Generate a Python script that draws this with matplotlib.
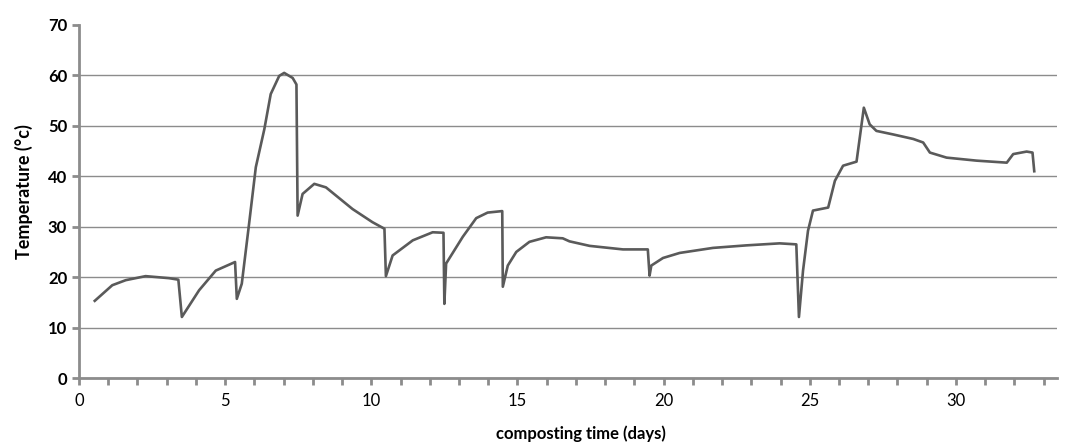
import matplotlib
matplotlib.use("Agg")
import matplotlib.pyplot as plt
from matplotlib.ticker import MultipleLocator

# composting time (days) and temperature (°c)
dias = [0.54, 1.14, 1.60, 2.28, 3.08, 3.40, 3.52, 4.11, 4.68, 5.34, 5.40, 5.57,
        5.82, 6.05, 6.34, 6.56, 6.85, 7.02, 7.31, 7.44, 7.48, 7.65,
        8.05, 8.45, 9.36, 10.04, 10.45, 10.50, 10.73, 11.42, 12.10, 12.47,
        12.50, 12.56, 13.13, 13.59, 13.98, 14.48, 14.50, 14.67, 14.96, 15.41,
        15.98, 16.55, 16.78, 17.47, 18.61, 19.46, 19.52, 19.58, 19.98, 20.55,
        21.69, 22.83, 23.97, 24.54, 24.63, 24.77, 24.94, 25.11, 25.63, 25.86,
        26.14, 26.60, 26.85, 27.05, 27.28, 27.85, 28.54, 28.88, 29.11, 29.68,
        30.71, 31.74, 31.96, 32.42, 32.62, 32.68]
temperatura = [15.3, 18.4, 19.4, 20.2, 19.8, 19.5, 12.1, 17.4, 21.3, 23.0, 15.7, 18.7,
               30.6, 41.8, 49.3, 56.3, 59.9, 60.5, 59.5, 58.2, 32.2, 36.5,
               38.5, 37.8, 33.5, 30.9, 29.6, 20.2, 24.3, 27.3, 28.9, 28.8,
               14.7, 22.7, 28.0, 31.7, 32.8, 33.1, 18.1, 22.3, 25.0, 27.0,
               27.9, 27.7, 27.1, 26.2, 25.5, 25.5, 20.3, 22.3, 23.8, 24.8,
               25.8, 26.3, 26.7, 26.5, 12.1, 21.3, 29.2, 33.2, 33.8, 39.1,
               42.1, 42.9, 53.6, 50.3, 49.0, 48.3, 47.4, 46.7, 44.7, 43.7,
               43.1, 42.7, 44.4, 44.9, 44.7, 41.0]

xticks = [0, 5, 10, 15, 20, 25, 30]
yticks = [0, 10, 20, 30, 40, 50, 60, 70]

plt.rcParams["font.family"] = ["Lato", "DejaVu Sans"]

fig = plt.figure(figsize=(10.70, 4.43), dpi=100)
ax = fig.add_axes([0.0738, 0.1467, 0.9141, 0.7969])

ax.plot(dias, temperatura, color="#5a5a5a", linewidth=1.9, solid_joinstyle="round")

ax.set_xlim(0, 33.46)
ax.set_ylim(0, 70)
ax.set_xticks(xticks)
ax.set_yticks(yticks)
ax.xaxis.set_minor_locator(MultipleLocator(1))

ax.grid(True, axis="y", color="#8c8c8c", linewidth=1.0)
ax.get_ygridlines()[-1].set_visible(False)
ax.set_axisbelow(True)

for lado in ["top", "right"]:
    ax.spines[lado].set_visible(False)
for lado in ["left", "bottom"]:
    ax.spines[lado].set_color("#8c8c8c")
    ax.spines[lado].set_linewidth(2.0)

ax.tick_params(axis="both", which="both", color="#8c8c8c", direction="out")
ax.tick_params(axis="both", which="major", length=5, width=2, labelsize=12)
ax.tick_params(axis="x", which="minor", length=5, width=2)
ax.tick_params(axis="x", which="major", pad=6)
for t in ax.get_yticklabels():
    t.set_fontweight("bold")

# ejes: etiquetas colocadas como en la figura original
fig.text(24 / 1070, 1 - 192 / 443, "Temperature (°c)", rotation=90,
         fontsize=13, fontweight="bold", ha="center", va="center")
fig.text(581 / 1070, 1 - 434 / 443, "composting time (days)",
         fontsize=12, fontweight="bold", ha="center", va="center")

fig.savefig("out.png", dpi=100)
